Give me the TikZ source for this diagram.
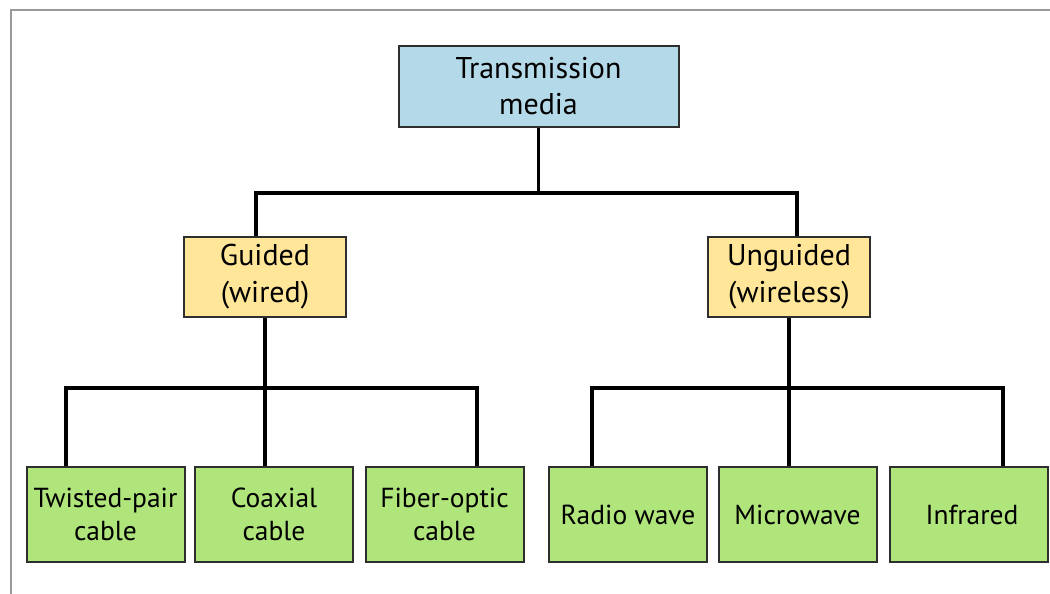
\documentclass[tikz,border=0pt]{standalone}
\usepackage{fontspec}
\setmainfont{PT Sans}
\definecolor{rootblue}{HTML}{B4D9E8}
\definecolor{midyellow}{HTML}{FFE699}
\definecolor{leafgreen}{HTML}{B0E57C}
\definecolor{edge}{HTML}{2E2E2E}
\begin{document}
\begin{tikzpicture}[x=1pt,y=-1pt,
  box/.style={draw=edge, line width=2pt, align=center, inner sep=0pt, text=black},
  rootbox/.style={box, fill=rootblue, minimum width=280pt, minimum height=80pt,
    font=\fontsize{30}{36}\selectfont},
  midbox/.style={box, fill=midyellow, minimum width=162pt, minimum height=80pt,
    font=\fontsize{30}{37}\selectfont},
  leafbox/.style={box, fill=leafgreen, minimum width=158pt, minimum height=95pt,
    font=\fontsize{27.5}{33}\selectfont},
  conn/.style={line width=3.2pt, black}]
\useasboundingbox (0,0) rectangle (1050,594);
\draw[gray!80, line width=2pt] (11,594) -- (11,10) -- (1050,10);
% nodes
\node[rootbox] (root) at (538.5,86.5) {Transmission\\media};
\node[midbox] (guided) at (265,276.5) {Guided\\(wired)};
\node[midbox] (unguided) at (789,276.5) {Unguided\\(wireless)};
\node[leafbox] (twisted) at (105.5,514.5) {Twisted-pair\\cable};
\node[leafbox] (coaxial) at (274,514.5) {Coaxial\\cable};
\node[leafbox] (fiber) at (444.5,514.5) {Fiber-optic\\cable};
\node[leafbox] (radio) at (628,514.5) {Radio wave};
\node[leafbox] (micro) at (797.5,514.5) {Microwave};
\node[leafbox] (infra) at (969,514.5) {\hspace*{6pt}Infrared};
% bus coordinates
\coordinate (rbus) at (538.5,193);
\coordinate (gl) at (256,193);
\coordinate (ur) at (797,193);
\coordinate (g1) at (66,388);
\coordinate (g3) at (477,388);
\coordinate (u1) at (592,388);
\coordinate (u3) at (1003,388);
% connectors
\draw[conn] (root.south) -- (rbus);
\draw[conn] (guided.north -| gl) -- (gl) -- (ur) -- (unguided.north -| ur);
\draw[conn] (guided.south) -- (guided.south |- coaxial.north);
\draw[conn] (twisted.north -| g1) -- (g1) -- (g3) -- (fiber.north -| g3);
\draw[conn] (unguided.south) -- (unguided.south |- micro.north);
\draw[conn] (radio.north -| u1) -- (u1) -- (u3) -- (infra.north -| u3);
\end{tikzpicture}
\end{document}
